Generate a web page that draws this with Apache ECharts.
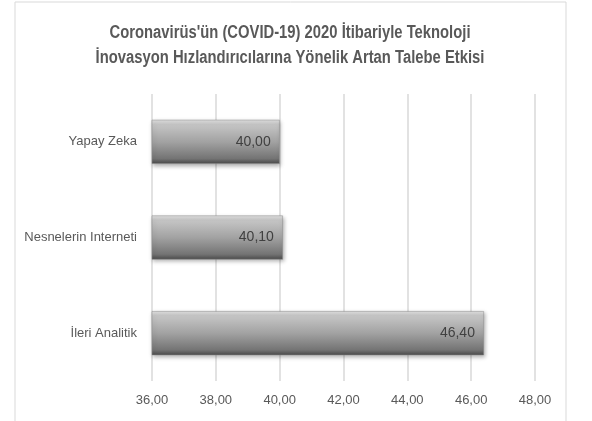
<!DOCTYPE html>
<html>
<head>
<meta charset="utf-8">
<script src="https://cdn.jsdelivr.net/npm/echarts@6/dist/echarts.min.js"></script>
<style>
  html, body { margin: 0; padding: 0; background: #fff; }
  #chart { width: 592px; height: 421px; }
</style>
</head>
<body>
<div id="chart"></div>
<script>
// kategoriler ve degerler
const categories = ['Yapay Zeka', 'Nesnelerin Interneti', 'İleri Analitik'];
const values = [40.00, 40.10, 46.40];
const axisTicks = [36, 38, 40, 42, 44, 46, 48];

const titleLines = [
  "Coronavirüs'ün (COVID-19) 2020 İtibariyle Teknoloji",
  'İnovasyon Hızlandırıcılarına Yönelik Artan Talebe Etkisi'
];

const FONT = '"Liberation Sans", Arial, sans-serif';
const TITLE_SIZE = 18;

/**
 * sayiyi virgullu formata cevir: 40 -> 40,00
 */
const fmt = v => Number(v).toFixed(2).replace('.', ',');

// baslik Calibri gibi dar gorunsun diye yatayda sikistiriliyor
const measure = document.createElement('canvas').getContext('2d');
measure.font = 'bold ' + TITLE_SIZE + 'px ' + FONT;
const titleScale = 361 / measure.measureText(titleLines[0]).width;

const chart = echarts.init(document.getElementById('chart'), null, { renderer: 'canvas' });

function titleText(line, y) {
  return {
    type: 'text',
    x: 290,
    y: y,
    scaleX: titleScale,
    silent: true,
    style: {
      text: line,
      fontFamily: FONT,
      fontSize: TITLE_SIZE,
      fontWeight: 'bold',
      fill: '#595959',
      align: 'center',
      verticalAlign: 'middle'
    }
  };
}

const option = {
  backgroundColor: '#fff',
  animation: false,
  graphic: [
    {
      type: 'rect',
      shape: { x: 15, y: 2, width: 551, height: 430 },
      style: { fill: 'none', stroke: '#d9d9d9', lineWidth: 1 },
      silent: true,
      z: -1
    },
    titleText(titleLines[0], 33),
    titleText(titleLines[1], 58)
  ],
  grid: { left: 152, right: 57, top: 94, bottom: 40 },
  xAxis: {
    type: 'value',
    min: axisTicks[0],
    max: axisTicks[axisTicks.length - 1],
    interval: 2,
    axisLine: { show: false },
    axisTick: { show: false },
    axisLabel: {
      formatter: v => fmt(v),
      fontFamily: FONT,
      fontSize: 13,
      color: '#595959',
      margin: 13
    },
    splitLine: { lineStyle: { color: '#d9d9d9', width: 1.5 } }
  },
  yAxis: {
    type: 'category',
    inverse: true,
    data: categories,
    axisLine: { show: false },
    axisTick: { show: false },
    axisLabel: {
      fontFamily: FONT,
      fontSize: 13,
      color: '#595959',
      margin: 15
    }
  },
  series: [{
    type: 'bar',
    data: values,
    barWidth: 44,
    itemStyle: {
      color: new echarts.graphic.LinearGradient(0, 0, 0, 1, [
        { offset: 0, color: '#e2e2e2' },
        { offset: 0.1, color: '#c6c6c6' },
        { offset: 0.5, color: '#a2a2a2' },
        { offset: 0.88, color: '#747474' },
        { offset: 1, color: '#4a4a4a' }
      ]),
      borderColor: '#8a8a8a',
      borderWidth: 0.5,
      shadowBlur: 4,
      shadowOffsetX: 1,
      shadowOffsetY: 2,
      shadowColor: 'rgba(0,0,0,0.3)'
    },
    label: {
      show: true,
      position: 'insideRight',
      distance: 9,
      formatter: p => fmt(p.value),
      fontFamily: FONT,
      fontSize: 14,
      color: '#404040'
    }
  }]
};

chart.setOption(option);
</script>
</body>
</html>
